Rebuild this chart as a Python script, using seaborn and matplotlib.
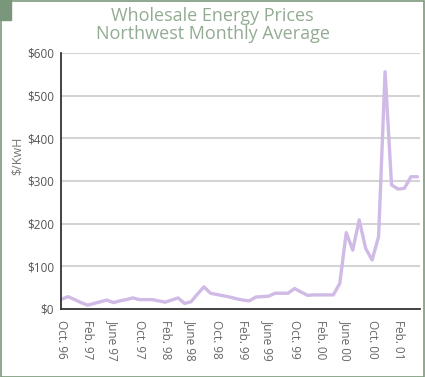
import pandas as pd
import matplotlib.pyplot as plt
import seaborn as sns
from matplotlib.patches import Rectangle

# monthly average, Oct 96 .. May 01 ($/KwH)
prices = [23, 29, 22, 15, 9, 13, 17, 21, 15, 19, 22, 26,
          22, 22, 22, 19, 16, 21, 26, 13, 17, 35, 52, 37,
          34, 31, 28, 24, 21, 19, 28, 29, 30, 37, 37, 37,
          48, 40, 32, 33, 33, 33, 33, 60, 179, 138, 209, 142,
          115, 170, 556, 291, 281, 283, 310, 310]
tick_labels = ['Oct. 96', 'Feb. 97', 'June 97', 'Oct. 97', 'Feb. 98', 'June 98',
               'Oct. 98', 'Feb. 99', 'June 99', 'Oct. 99', 'Feb. 00', 'June 00',
               'Oct. 00', 'Feb. 01']
y_ticks = [0, 100, 200, 300, 400, 500, 600]

df = pd.DataFrame({'month': range(len(prices)), 'price': prices})

sns.set_theme(style='white')
plt.rcParams['font.family'] = ['Open Sans', 'DejaVu Sans']

fig = plt.figure(figsize=(4.25, 3.77), dpi=100)
ax = fig.add_axes([61 / 425, 1 - 309 / 377, 359 / 425, 256 / 377])

green = '#7b977b'
# frame around the figure and the corner block
fig.patches.append(Rectangle((0.5 / 425, 0.5 / 377), 423.5 / 425, 375.5 / 377,
                             transform=fig.transFigure, fill=False,
                             edgecolor=green, linewidth=1.2))
fig.patches.append(Rectangle((0, 1 - 20 / 377), 11 / 425, 20 / 377,
                             transform=fig.transFigure, color=green))

for v in y_ticks[1:]:
    ax.axhline(v, color='#d4d4d4', linewidth=1.5, zorder=0)

sns.lineplot(data=df, x='month', y='price', color='#d0bae6', linewidth=2.4, ax=ax)

ax.set_xlim(-0.1, 55.4)
ax.set_ylim(0, 600)
ax.set_xticks(range(0, 4 * len(tick_labels), 4))
ax.set_xticklabels(tick_labels, rotation=270, color='#666666', fontsize=8.5)
ax.set_yticks(y_ticks)
ax.set_yticklabels(['$%d' % v for v in y_ticks], color='#555555', fontsize=8.5)
ax.tick_params(axis='y', direction='inout', length=8, width=1.2, color='#222222', pad=1)
ax.tick_params(axis='x', direction='out', length=5, width=1.2, color='#222222', pad=3)
ax.set_xlabel('')
ax.set_ylabel('$/KwH', color='#777777', fontsize=9)
ax.yaxis.set_label_coords(-37 / 359, 0.6)

for s in ['top', 'right']:
    ax.spines[s].set_visible(False)
for s in ['left', 'bottom']:
    ax.spines[s].set_color('#333333')
    ax.spines[s].set_linewidth(1.3)

fig.text(0.5, 1 - 16 / 377, 'Wholesale Energy Prices', ha='center', va='center',
         color='#93ab93', fontsize=13)
fig.text(0.5, 1 - 34 / 377, 'Northwest Monthly Average', ha='center', va='center',
         color='#93ab93', fontsize=13)

fig.savefig('out.png', dpi=100)
